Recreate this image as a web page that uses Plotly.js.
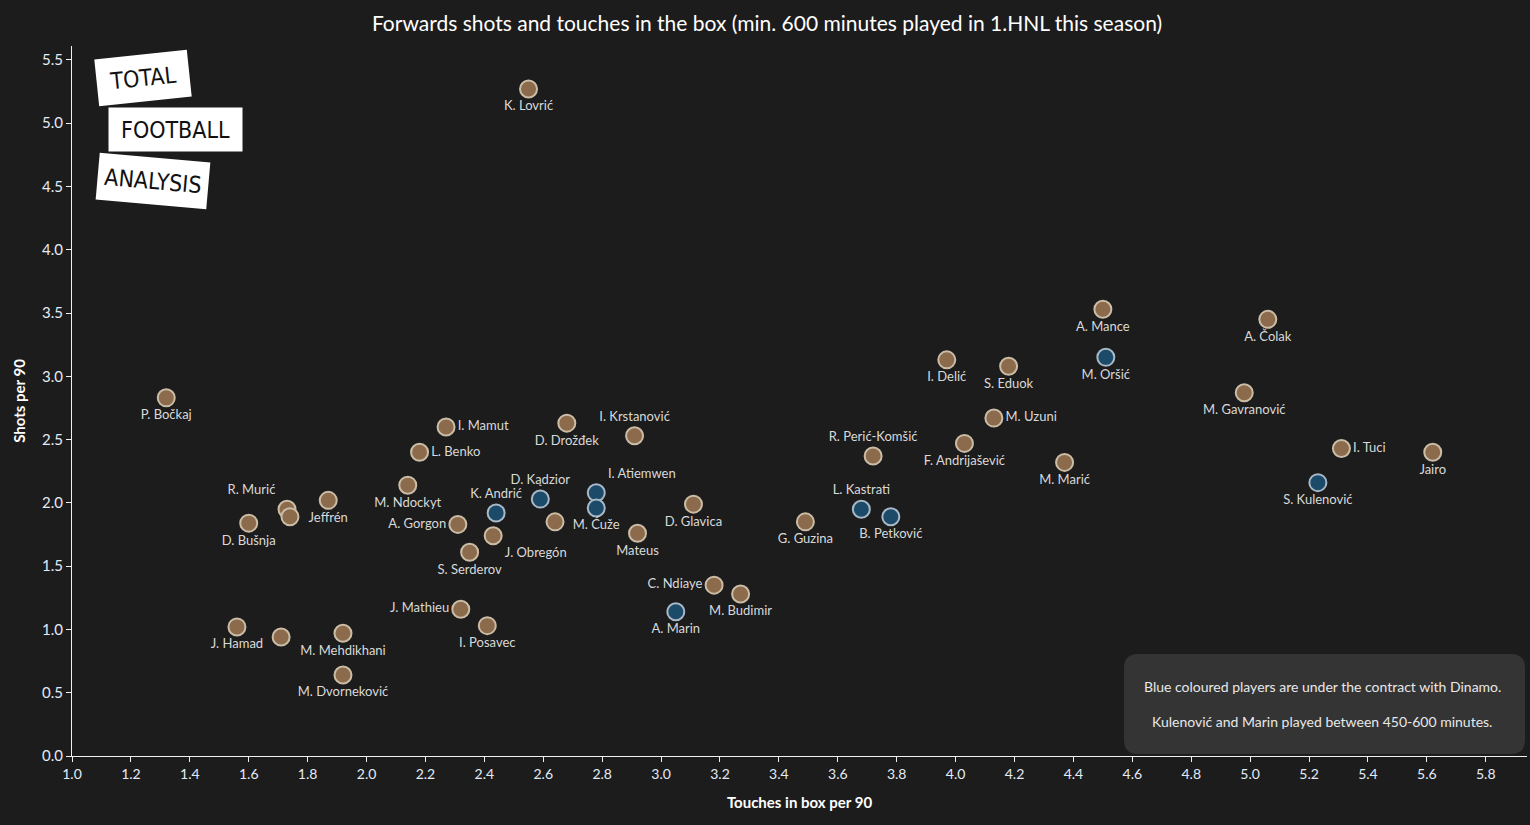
<!DOCTYPE html>
<html>
<head>
<meta charset="utf-8">
<script src="https://cdn.plot.ly/plotly-3.0.1.min.js"></script>
<style>
  html, body { margin: 0; padding: 0; background: #1c1c1c; }
  #chart { width: 1530px; height: 825px; }
</style>
</head>
<body>
<div id="chart"></div>
<script>
// ---- data ----
const players = [
  "K. Lovrić", "P. Bočkaj", "R. Murić", "Jeffrén", "", "D. Bušnja",
  "J. Hamad", "", "M. Mehdikhani", "M. Dvorneković", "M. Ndockyt", "A. Gorgon",
  "S. Serderov", "J. Mathieu", "I. Posavec", "I. Mamut", "L. Benko", "K. Andrić",
  "D. Kądzior", "J. Obregón", "", "D. Drožđek", "I. Krstanović", "I. Atiemwen",
  "M. Ćuže", "Mateus", "D. Glavica", "C. Ndiaye", "M. Budimir", "A. Marin",
  "G. Guzina", "L. Kastrati", "B. Petković", "R. Perić-Komšić", "I. Delić", "S. Eduok",
  "M. Uzuni", "F. Andrijašević", "A. Mance", "M. Oršić", "M. Marić", "M. Gavranović",
  "A. Čolak", "I. Tuci", "Jairo", "S. Kulenović"
];
const touchesInBox = [
  2.55, 1.32, 1.73, 1.87, 1.74, 1.60,
  1.56, 1.71, 1.92, 1.92, 2.14, 2.31,
  2.35, 2.32, 2.41, 2.27, 2.18, 2.44,
  2.59, 2.43, 2.64, 2.68, 2.91, 2.78,
  2.78, 2.92, 3.11, 3.18, 3.27, 3.05,
  3.49, 3.68, 3.78, 3.72, 3.97, 4.18,
  4.13, 4.03, 4.50, 4.51, 4.37, 4.98,
  5.06, 5.31, 5.62, 5.23
];
const shotsPer90 = [
  5.27, 2.83, 1.95, 2.02, 1.89, 1.84,
  1.02, 0.94, 0.97, 0.64, 2.14, 1.83,
  1.61, 1.16, 1.03, 2.60, 2.40, 1.92,
  2.03, 1.74, 1.85, 2.63, 2.53, 2.08,
  1.96, 1.76, 1.99, 1.35, 1.28, 1.14,
  1.85, 1.95, 1.89, 2.37, 3.13, 3.08,
  2.67, 2.47, 3.53, 3.15, 2.32, 2.87,
  3.45, 2.43, 2.40, 2.16
];
const dinamo = [
  0, 0, 0, 0, 0, 0,
  0, 0, 0, 0, 0, 0,
  0, 0, 0, 0, 0, 1,
  1, 0, 0, 0, 0, 1,
  1, 0, 0, 0, 0, 1,
  0, 1, 1, 0, 0, 0,
  0, 0, 0, 1, 0, 0,
  0, 0, 0, 1
];

const chartTitle = "Forwards shots and touches in the box (min. 600 minutes played in 1.HNL this season)";
const xTitle = "Touches in box per 90";
const yTitle = "Shots per 90";
const noteLines = [
  "Blue coloured players are under the contract with Dinamo.",
  "Kulenović and Marin played between 450-600 minutes."
];
const logoWords = ["TOTAL", "FOOTBALL", "ANALYSIS"];

// ---- label placement (style only) ----
const labelPos = [
  "bottom center", "bottom center", "top left", "bottom center", "bottom center", "bottom center",
  "bottom center", "bottom center", "bottom center", "bottom center", "bottom center", "middle left",
  "bottom center", "middle left", "bottom center", "middle right", "middle right", "top center",
  "top center", "bottom right", "bottom center", "bottom center", "top center", "top right",
  "bottom center", "bottom center", "bottom center", "middle left", "bottom center", "bottom center",
  "bottom center", "top center", "bottom center", "top center", "bottom center", "bottom center",
  "middle right", "bottom center", "bottom center", "bottom center", "bottom center", "bottom center",
  "bottom center", "middle right", "bottom center", "bottom center"
];

const BROWN = "#8b6b4c", BROWN_LINE = "#cbbca6";
const BLUE = "#1c4a69", BLUE_LINE = "#a8b8c6";
const FONT = "Lato, 'Open Sans', sans-serif";

const trace = {
  type: "scatter",
  mode: "markers+text",
  x: touchesInBox,
  y: shotsPer90,
  text: players,
  textposition: labelPos,
  textfont: { family: FONT, size: 13, color: "#d9d9d9" },
  marker: {
    size: 17,
    color: dinamo.map(d => d ? BLUE : BROWN),
    line: { width: 2, color: dinamo.map(d => d ? BLUE_LINE : BROWN_LINE) }
  },
  hoverinfo: "skip",
  cliponaxis: false
};

// plot area in pixels: x 72..1527, y 46..756
const L = 72, R = 1527, T = 46, B = 756;
const px = v => (v - L) / (R - L);
const py = v => (B - v) / (B - T);

function roundRect(x0, y0, x1, y1, r) {
  const rx = r / (R - L), ry = r / (B - T);
  const a = px(x0), b = px(x1), top = py(y0), bot = py(y1);
  return `M ${a + rx} ${top} L ${b - rx} ${top} Q ${b} ${top} ${b} ${top - ry} ` +
         `L ${b} ${bot + ry} Q ${b} ${bot} ${b - rx} ${bot} L ${a + rx} ${bot} ` +
         `Q ${a} ${bot} ${a} ${bot + ry} L ${a} ${top - ry} Q ${a} ${top} ${a + rx} ${top} Z`;
}

const axisFont = { family: FONT, size: 14, color: "#e3ebf5" };
const logoFont = { family: "'DejaVu Sans Condensed', 'Liberation Sans Narrow', Lato, sans-serif", size: 23, color: "#111111" };

function note(text, x, y) {
  return { xref: "paper", yref: "paper", x: px(x), y: py(y), xanchor: "center", yanchor: "middle",
    text: text, showarrow: false, font: { family: FONT, size: 14, color: "#e8e8e8" } };
}
function logo(text, x, y, angle, w, h) {
  return { xref: "paper", yref: "paper", x: px(x), y: py(y), xanchor: "center", yanchor: "middle",
    text: text, showarrow: false, textangle: angle, bgcolor: "#ffffff", width: w, height: h,
    font: logoFont };
}

const layout = {
  width: 1530, height: 825,
  paper_bgcolor: "#1c1c1c",
  plot_bgcolor: "#1c1c1c",
  margin: { l: L, r: 1530 - R, t: T, b: 825 - B },
  showlegend: false,
  title: {
    text: chartTitle,
    x: 767 / 1530, xref: "container", xanchor: "center",
    y: 1 - 24 / 825, yref: "container", yanchor: "middle",
    font: { family: FONT, size: 21, color: "#ffffff" }
  },
  xaxis: {
    range: [1.0, 5.94],
    tickvals: [1.0,1.2,1.4,1.6,1.8,2.0,2.2,2.4,2.6,2.8,3.0,3.2,3.4,3.6,3.8,4.0,4.2,4.4,4.6,4.8,5.0,5.2,5.4,5.6,5.8],
    tickformat: ".1f",
    showgrid: false, zeroline: false,
    showline: true, linecolor: "#f0f0f0", linewidth: 1,
    ticks: "outside", ticklen: 5, tickcolor: "#f0f0f0",
    tickfont: axisFont,
    title: { text: xTitle, standoff: 16,
      font: { family: FONT, size: 15, color: "#ffffff", weight: "bold" } }
  },
  yaxis: {
    range: [0, 5.61],
    tickvals: [0,0.5,1.0,1.5,2.0,2.5,3.0,3.5,4.0,4.5,5.0,5.5],
    tickformat: ".1f",
    showgrid: false, zeroline: false,
    showline: true, linecolor: "#f0f0f0", linewidth: 1,
    ticks: "outside", ticklen: 5, tickcolor: "#f0f0f0",
    tickfont: Object.assign({}, axisFont, { size: 15 }),
    title: { text: yTitle, standoff: 12,
      font: { family: FONT, size: 15, color: "#ffffff", weight: "bold" } }
  },
  shapes: [
    { type: "path", xref: "paper", yref: "paper", path: roundRect(1124, 654, 1525, 754, 14),
      fillcolor: "#343434", line: { width: 0 }, layer: "below" }
  ],
  annotations: [
    note(noteLines[0], 1322, 686),
    note(noteLines[1], 1322, 721),
    logo(logoWords[0], 143, 78, -6, 90, 44),
    logo(logoWords[1], 175, 130, 0, 131, 41),
    logo(logoWords[2], 153, 181, 5, 108, 44)
  ]
};

Plotly.newPlot("chart", [trace], layout, { displayModeBar: false, staticPlot: true });
</script>
</body>
</html>
